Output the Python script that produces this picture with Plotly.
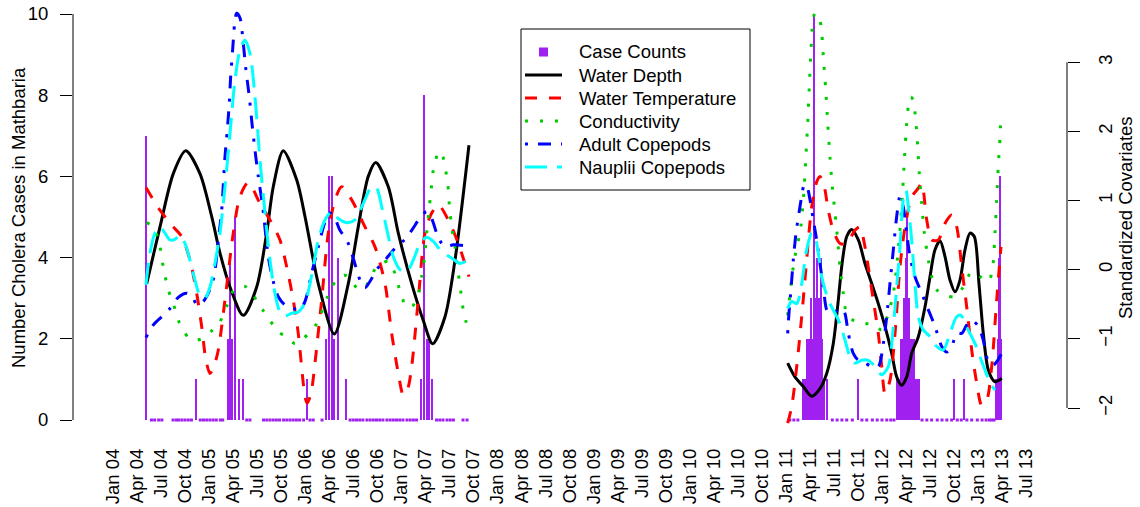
import plotly.graph_objects as go

FONT = "Liberation Sans, Arial, Helvetica, sans-serif"
FS = 18.5
PURPLE = "#A020F0"

# x values are months since January 2004
tick_labels = [
    "Jan 04", "Apr 04", "Jul 04", "Oct 04", "Jan 05", "Apr 05", "Jul 05", "Oct 05",
    "Jan 06", "Apr 06", "Jul 06", "Oct 06", "Jan 07", "Apr 07", "Jul 07", "Oct 07",
    "Jan 08", "Apr 08", "Jul 08", "Oct 08", "Jan 09", "Apr 09", "Jul 09", "Oct 09",
    "Jan 10", "Apr 10", "Jul 10", "Oct 10", "Jan 11", "Apr 11", "Jul 11", "Oct 11",
    "Jan 12", "Apr 12", "Jul 12", "Oct 12", "Jan 13", "Apr 13", "Jul 13",
]
tick_months = [3 * i for i in range(len(tick_labels))]

# ---- case counts (observation month, number of cases) ----
case_t = [
    4.18, 4.8, 5.2, 5.7, 6.1, 7.5, 7.9, 8.2, 8.6, 9.0, 9.4, 9.8, 10.36, 10.9, 11.3, 11.7,
    12.1, 12.5, 12.9, 13.4, 13.7, 14.32, 14.61, 14.89, 15.23, 15.73, 16.19, 16.7, 17.1,
    18.8, 19.2, 19.6, 20.0, 20.4, 20.8, 21.3, 21.7, 22.1, 22.5, 22.9, 23.3, 23.8, 24.18,
    24.6, 25.0, 26.1, 26.59, 27.0, 27.38, 27.63, 28.05, 29.09, 29.6, 30.0, 30.4, 30.8,
    31.2, 31.7, 32.1, 32.5, 32.9, 33.3, 33.7, 34.2, 34.6, 35.0, 35.4, 35.8, 36.2, 36.7,
    37.1, 37.5, 37.9, 38.45, 38.89, 39.2, 39.51, 39.83, 40.4, 40.8, 41.2, 41.7, 42.1,
    42.5, 43.7, 44.2,
    84.5, 85.0, 85.5, 86.1, 86.39, 86.64, 86.89, 87.1, 87.3, 87.52, 87.73, 87.93, 88.14,
    88.35, 88.55, 88.76, 89.1, 89.8, 90.4, 91.0, 91.6, 92.3, 93.05, 93.5, 94.1, 94.8,
    95.4, 96.0, 96.6, 97.1, 97.5, 97.84, 98.09, 98.34, 98.54, 98.75, 98.96, 99.16, 99.38,
    99.59, 99.79, 100.0, 100.21, 100.41, 100.62, 101.0, 101.6, 102.2, 102.9, 103.5,
    104.1, 104.7, 105.03, 105.4, 105.9, 106.24, 106.6, 107.2, 107.9, 108.5, 109.0, 109.4,
    109.7, 110.0, 110.24, 110.4, 110.52, 110.65, 110.77, 110.9,
]
case_n = [
    7, 0, 0, 0, 0, 0, 0, 0, 0, 0, 0, 0, 1, 0, 0, 0,
    0, 0, 0, 0, 0, 2, 4, 2, 5, 1, 1, 0, 0,
    0, 0, 0, 0, 0, 0, 0, 0, 0, 0, 0, 0, 0, 1,
    0, 0, 0, 2, 6, 6, 2, 4, 1, 0, 0, 0, 0,
    0, 0, 0, 0, 0, 0, 0, 0, 0, 0, 0, 0, 0, 0,
    0, 0, 0, 1, 8, 2, 2, 1, 0, 0, 0, 0, 0,
    0, 0, 0,
    0, 0, 0, 1, 1, 2, 2, 3, 2, 10, 3, 4, 3,
    4, 2, 1, 1, 0, 0, 0, 0, 0, 1, 0, 0, 0,
    0, 0, 0, 0, 0, 1, 1, 2, 2, 3, 4, 5, 3,
    2, 2, 2, 1, 1, 1, 0, 0, 0, 0, 0,
    0, 0, 1, 0, 0, 1, 0, 0, 0, 0, 0, 0,
    0, 0, 1, 1, 2, 4, 6, 2,
]

# ---- standardized covariates, 2004-2007 (period 1) and 2011-2013 (period 2) ----
depth_t1 = [4.21, 5.87, 7.53, 9.08, 10.86, 12.32, 13.36, 14.61, 16.27, 17.94, 19.19, 20.01,
            21.26, 22.93, 23.97, 25.01, 25.63, 27.63, 29.38, 30.62, 31.87, 32.80, 34.37,
            35.62, 37.29, 38.73, 39.91, 41.45, 42.70, 44.44]
depth_v1 = [-0.20, 0.62, 1.39, 1.72, 1.39, 0.77, 0.24, -0.25, -0.66, -0.25, 0.53, 1.20,
            1.72, 1.30, 0.77, 0.14, -0.20, -0.93, -0.20, 0.62, 1.35, 1.55, 1.20,
            0.53, -0.20, -0.73, -1.07, -0.68, 0.14, 1.80]
depth_t2 = [84.23, 85.14, 86.18, 87.23, 88.26, 89.10, 89.92, 90.55, 90.97, 91.60, 92.22,
            93.05, 93.88, 94.72, 95.54, 96.38, 97.22, 97.84, 98.46, 99.09, 99.71, 100.54,
            101.37, 102.00, 102.62, 103.25, 103.87, 104.49, 105.12, 105.74, 106.37, 106.99,
            107.53, 108.11, 108.65, 109.28, 110.11, 110.95]
depth_v2 = [-1.35, -1.55, -1.69, -1.83, -1.72, -1.50, -1.07, -0.44, 0.04, 0.48, 0.58,
            0.43, 0.09, -0.20, -0.49, -0.82, -1.21, -1.55, -1.67, -1.55, -1.21, -0.97,
            -0.54, -0.10, 0.29, 0.42, 0.19, -0.15, -0.32, -0.15, 0.29, 0.53,
            0.48, -0.20, -0.92, -1.45, -1.62, -1.57]

temp_t1 = [4.12, 5.87, 7.53, 8.58, 9.61, 10.45, 11.07, 11.6, 12.11, 12.6, 13.15, 13.98,
           15.02, 15.86, 16.89, 18.35, 19.60, 20.85, 21.69, 22.51, 23.13, 23.55, 23.95,
           24.25, 24.6, 24.81, 25.22, 26.05, 26.88, 27.72, 28.55, 29.80, 31.46, 32.71,
           33.96, 34.79, 35.62, 36.24, 36.8, 37.29, 38.11, 38.95, 39.79, 40.61, 41.86,
           43.11, 44.44]
temp_v1 = [1.19, 0.86, 0.62, 0.48, 0.14, -0.34, -0.82, -1.30, -1.50, -1.40, -1.16, -0.44,
           0.53, 1.06, 1.26, 0.96, 0.72, 0.43, 0.04, -0.44, -0.92, -1.40, -1.82,
           -1.93, -1.84, -1.74, -1.35, -0.44, 0.53, 1.01, 1.20, 1.01, 0.62, 0.33,
           -0.20, -0.92, -1.50, -1.81, -1.72, -1.40, -0.44, 0.53, 0.82, 0.94, 0.72,
           0.38, -0.10]
temp_t2 = [84.23, 84.73, 85.36, 85.98, 86.60, 87.23, 87.85, 88.26, 88.80, 89.30, 89.92,
           90.76, 91.60, 92.63, 93.26, 93.80, 94.29, 94.92, 95.54, 95.97, 96.38, 97.00,
           97.63, 98.25, 98.88, 99.71, 100.54, 100.96, 101.59, 102.21, 103.03, 103.87,
           104.71, 105.33, 105.96, 106.58, 107.20, 107.83, 108.45, 109.07, 109.70,
           110.32, 110.86]
temp_v2 = [-2.22, -1.98, -1.40, -0.68, 0.14, 0.91, 1.27, 1.35, 1.20, 0.86, 0.57,
           0.38, 0.38, 0.57, 0.62, 0.38, 0.04, -0.44, -0.92, -1.40, -1.79, -1.60,
           -0.92, 0.04, 0.62, 1.05, 1.18, 1.25, 0.72, 0.43, 0.43, 0.67,
           0.79, 0.62, 0.04, -0.54, -1.16, -1.64, -1.96, -1.89, -1.40,
           -0.44, 0.33]

cond_t1 = [4.21, 5.03, 5.87, 6.28, 6.90, 7.53, 8.15, 8.78, 9.40, 10.45, 11.49, 12.45, 13.27,
           14.27, 14.82, 15.44, 16.48, 17.32, 18.01, 18.69, 19.39, 20.01, 20.76, 21.69,
           22.72, 23.76, 24.59, 25.43, 25.97, 26.38, 26.80, 27.30, 27.97, 28.96, 29.80,
           30.62, 31.46, 32.30, 32.71, 33.55, 34.37, 34.99, 35.42, 35.74, 36.12, 36.58,
           37.29, 37.92, 38.33, 38.54, 38.74, 38.95, 39.16, 39.45, 39.70, 39.99, 40.29,
           40.61, 41.11, 41.45, 41.79, 41.99, 42.28, 42.70, 43.11, 43.45, 43.73, 44.03,
           44.28]
cond_v1 = [0.68, 0.62, 0.33, 0.04, -0.29, -0.49, -0.73, -0.87, -0.98, -1.02, -0.97, -0.87,
           -0.77, -0.51, -0.34, -0.26, -0.24, -0.34, -0.46, -0.58, -0.70, -0.80, -0.91,
           -0.97, -1.07, -0.99, -0.91, -0.78, -0.64, -0.51, -0.39, -0.26, -0.14, -0.08,
           -0.17, -0.28, -0.25, -0.10, 0.01, 0.09, 0.12, 0.01, -0.14, -0.27, -0.41, -0.53,
           -0.54, -0.41, -0.26, -0.10, 0.04, 0.24, 0.53, 0.86, 1.13, 1.44, 1.58, 1.71,
           1.66, 1.49, 1.25, 0.94, 0.62, 0.33, -0.05, -0.34, -0.58, -0.73, -0.88]
cond_t2 = [84.23, 84.52, 84.93, 85.36, 85.77, 86.18, 86.48, 86.73, 86.93, 87.14, 87.35,
           87.64, 88.14, 88.48, 88.68, 88.98, 89.23, 89.51, 89.80, 90.14, 90.47, 90.76,
           91.17, 91.60, 92.63, 93.88, 94.92, 95.97, 96.79, 97.42, 98.04, 98.46, 98.75,
           99.00, 99.29, 99.59, 99.91, 100.21, 100.46, 100.66, 100.96, 101.29, 101.79,
           102.21, 102.83, 103.87, 105.12, 106.15, 107.20, 108.24, 109.28, 109.78, 110.11,
           110.32, 110.52, 110.74, 110.86]
cond_v2 = [-0.66, -0.34, 0.04, 0.33, 0.53, 1.01, 1.59, 2.12, 2.65, 3.18, 3.56,
           3.71, 3.66, 3.42, 3.08, 2.60, 2.12, 1.63, 1.20, 0.82, 0.43, 0.04,
           -0.34, -0.63, -0.75, -0.78, -0.78, -0.87, -0.63, -0.34, 0.29, 0.91, 1.49,
           1.97, 2.36, 2.50, 2.45, 2.17, 1.78, 1.39, 0.96, 0.53, 0.14,
           -0.10, -0.29, -0.37, -0.39, -0.25, -0.03, -0.10, -0.17, 0.00, 0.53,
           1.01, 1.49, 1.92, 2.24]

adult_t1 = [4.12, 5.03, 6.08, 7.12, 8.15, 9.20, 9.83, 10.52, 11.27, 11.90, 12.61, 13.15,
            13.57, 13.98, 14.27, 14.52, 14.69, 14.94, 15.19, 15.44, 15.86, 16.27, 16.60,
            17.02, 17.35, 17.73, 18.14, 18.69, 19.39, 20.01, 20.64, 21.47, 22.51, 23.35,
            24.00, 24.81, 25.63, 26.47, 27.09, 27.72, 28.34, 29.18, 29.80, 30.42, 30.84,
            31.46, 32.08, 32.92, 33.96, 35.21, 36.45, 37.29, 38.45, 39.16, 39.79, 40.41,
            41.04, 41.66, 42.48, 44.44]
adult_v1 = [-0.98, -0.80, -0.68, -0.56, -0.40, -0.34, -0.38, -0.51, -0.46, -0.34, -0.10, 0.43,
            0.86, 1.63, 2.02, 2.41, 2.79, 3.18, 3.56, 3.71, 3.64, 3.27, 2.89,
            2.50, 2.12, 1.73, 1.35, 0.91, 0.19, -0.17, -0.39, -0.51, -0.56, -0.58,
            -0.45, -0.05, 0.33, 0.69, 0.82, 0.74, 0.57, 0.43, 0.24, 0.00, -0.15,
            -0.26, -0.17, 0.00, 0.14, 0.31, 0.44, 0.57, 0.77, 0.84, 0.74, 0.53,
            0.38, 0.33, 0.36, 0.34]
adult_t2 = [84.23, 84.39, 84.64, 84.93, 85.27, 85.64, 85.98, 86.30, 86.64, 87.02, 87.43,
            87.85, 88.26, 88.68, 89.10, 89.51, 90.14, 90.76, 91.30, 91.80, 92.42, 93.05,
            93.88, 94.72, 95.54, 96.17, 96.59, 97.00, 97.42, 97.84, 98.25, 98.66, 99.09,
            99.50, 100.12, 100.96, 101.79, 102.62, 103.46, 104.08, 104.71, 105.33, 105.96,
            106.58, 107.20, 108.03, 108.65, 109.28, 109.90, 110.45, 110.95]
adult_v2 = [-0.92, -0.63, -0.29, 0.14, 0.53, 0.82, 1.06, 1.23, 1.20, 1.01, 0.72,
            0.43, 0.09, -0.25, -0.58, -0.63, -0.61, -0.56, -0.61, -0.92, -1.21, -1.31,
            -1.35, -1.40, -1.40, -1.07, -0.68, -0.20, 0.29, 0.77, 1.06, 0.91, 0.53,
            0.19, -0.10, -0.34, -0.58, -0.82, -1.11, -1.19, -1.11, -0.92, -0.92,
            -0.80, -0.73, -0.82, -1.02, -1.33, -1.38, -1.31, -1.21]

naup_t1 = [4.12, 4.62, 5.24, 5.87, 6.49, 7.12, 7.74, 8.36, 8.99, 9.61, 10.24, 10.86, 11.49,
           12.11, 12.73, 13.36, 13.98, 14.61, 15.23, 15.86, 16.48, 17.10, 17.73, 18.35,
           18.98, 19.60, 20.22, 20.85, 21.47, 22.31, 23.13, 23.97, 24.81, 25.63, 26.47,
           27.30, 28.13, 29.18, 30.21, 31.25, 32.30, 32.92, 33.55, 34.29, 34.99, 35.83,
           36.67, 37.49, 38.33, 39.16, 39.99, 41.04, 42.28, 43.32, 44.36]
naup_v1 = [-0.22, 0.24, 0.53, 0.62, 0.53, 0.43, 0.44, 0.50, 0.38, 0.14, -0.15, -0.37, -0.41,
           -0.25, 0.09, 0.53, 1.20, 1.97, 2.74, 3.18, 3.32, 3.13, 2.50, 1.59,
           0.82, 0.14, -0.34, -0.61, -0.67, -0.63, -0.61, -0.48, -0.08, 0.43, 0.72,
           0.84, 0.74, 0.68, 0.72, 0.96, 1.20, 1.18, 0.91, 0.53, 0.19, 0.00,
           -0.03, 0.14, 0.38, 0.47, 0.41, 0.26, 0.17, 0.09, 0.14]
naup_t2 = [84.23, 84.73, 85.36, 85.98, 86.60, 87.23, 87.64, 88.05, 88.48, 88.89, 89.51,
           90.14, 90.76, 91.39, 92.01, 92.63, 93.47, 94.29, 95.13, 95.97, 96.79, 97.42,
           97.84, 98.25, 98.66, 99.00, 99.29, 99.71, 100.12, 100.54, 101.16, 102.00,
           102.83, 103.66, 104.49, 105.33, 105.87, 106.37, 106.99, 107.62, 108.24,
           108.86, 109.49, 110.11]
naup_v2 = [-0.56, -0.46, -0.49, -0.20, 0.29, 0.53, 0.48, 0.24, -0.10, -0.29, -0.49,
           -0.63, -0.78, -1.02, -1.26, -1.35, -1.31, -1.31, -1.40, -1.52, -1.40, -0.82,
           -0.25, 0.33, 1.01, 1.15, 0.91, 0.43, -0.20, -0.68, -0.87, -0.97,
           -1.11, -1.16, -0.92, -0.68, -0.66, -0.78, -0.92, -1.07, -1.26,
           -1.45, -1.64, -1.74]

series = [
    ("Water Depth", "black", "solid", depth_t1, depth_v1, depth_t2, depth_v2),
    ("Water Temperature", "#FF0000", "12px,12px", temp_t1, temp_v1, temp_t2, temp_v2),
    ("Conductivity", "#00CD00", "3px,12px", cond_t1, cond_v1, cond_t2, cond_v2),
    ("Adult Copepods", "#0000FF", "3px,10px,13px,10px", adult_t1, adult_v1, adult_t2, adult_v2),
    ("Nauplii Copepods", "#00FFFF", "22px,10px", naup_t1, naup_v1, naup_t2, naup_v2),
]

fig = go.Figure()

fig.add_trace(go.Bar(
    x=case_t, y=case_n, width=0.25, name="Case Counts", showlegend=False,
    marker=dict(color=PURPLE, line=dict(width=0)),
    xaxis="x", yaxis="y", hoverinfo="x+y",
))
zero_t = [t for t, n in zip(case_t, case_n) if n == 0]
fig.add_trace(go.Scatter(
    x=zero_t, y=[0] * len(zero_t), mode="markers", showlegend=False,
    marker=dict(symbol="square", size=3, color=PURPLE, line=dict(width=0)),
    xaxis="x", yaxis="y", hoverinfo="skip",
))

for name, color, dash, t1, v1, t2, v2 in series:
    fig.add_trace(go.Scatter(
        x=t1 + [None] + t2, y=v1 + [None] + v2, mode="lines", name=name, showlegend=False,
        line=dict(color=color, width=3, dash=dash, shape="spline", smoothing=0.8),
        connectgaps=False, xaxis="x", yaxis="y2",
    ))

# ---- legend box drawn in the plot area (pixel layout converted to paper units) ----
PLOT_L, PLOT_W, PLOT_H = 73, 994, 436


def px_x(p):
    return (p - PLOT_L) / PLOT_W


def px_y(p):
    return 1 - p / PLOT_H


shapes = [
    dict(type="line", xref="paper", x0=0, x1=0, yref="y", y0=0, y1=10,
         line=dict(color="black", width=1)),
    dict(type="line", xref="paper", x0=1, x1=1, yref="y2", y0=-2, y1=3,
         line=dict(color="black", width=1)),
    dict(type="rect", xref="paper", yref="paper", x0=px_x(521), x1=px_x(750),
         y0=px_y(190), y1=px_y(29), line=dict(color="black", width=1),
         fillcolor="white", layer="above"),
]
annotations = []
legend_rows = [("Case Counts", PURPLE, None)] + [(s[0], s[1], s[2]) for s in series]
for i, (label, color, dash) in enumerate(legend_rows):
    yc = 52 + 23 * i
    if dash is None:
        shapes.append(dict(type="rect", xref="paper", yref="paper",
                           x0=px_x(539), x1=px_x(548), y0=px_y(yc + 4.5), y1=px_y(yc - 4.5),
                           line=dict(width=0), fillcolor=color, layer="above"))
    else:
        shapes.append(dict(type="line", xref="paper", yref="paper",
                           x0=px_x(525), x1=px_x(562), y0=px_y(yc), y1=px_y(yc),
                           line=dict(color=color, width=3, dash=dash), layer="above"))
    annotations.append(dict(text=label, showarrow=False, xref="paper", yref="paper",
                            x=px_x(577), y=px_y(yc), xanchor="left", yanchor="middle",
                            font=dict(size=FS)))

annotations += [
    dict(text="Number Cholera Cases in Mathbaria", textangle=-90, showarrow=False,
         xref="paper", x=0, xshift=-55, xanchor="center",
         yref="paper", y=0.5, yanchor="middle", font=dict(size=FS)),
    dict(text="Standardized Covariates", textangle=-90, showarrow=False,
         xref="paper", x=1, xshift=58, xanchor="center",
         yref="paper", y=0.5, yanchor="middle", font=dict(size=FS)),
]

fig.update_layout(
    width=1140, height=507,
    margin=dict(l=PLOT_L, r=73, t=0, b=71, pad=0),
    paper_bgcolor="white", plot_bgcolor="white",
    font=dict(family=FONT, size=FS, color="black"),
    bargap=0,
    showlegend=False,
    xaxis=dict(
        range=[-4.99, 119.1], tickmode="array", tickvals=tick_months, ticktext=tick_labels,
        tickangle=-90, showgrid=False, zeroline=False, showline=False, ticks="",
        ticklabelstandoff=8, tickfont=dict(size=FS),
    ),
    yaxis=dict(
        range=[-0.394, 10.345], tickmode="array", tickvals=[0, 2, 4, 6, 8, 10],
        ticks="outside", ticklen=12, tickwidth=1, tickcolor="black",
        showgrid=False, zeroline=False, showline=False, ticklabelstandoff=8,
        tickfont=dict(size=FS),
    ),
    yaxis2=dict(
        range=[-2.405, 3.901], overlaying="y", side="right", tickmode="array",
        tickvals=[-2, -1, 0, 1, 2, 3], tickangle=-90,
        ticks="outside", ticklen=12, tickwidth=1, tickcolor="black",
        showgrid=False, zeroline=False, showline=False, ticklabelstandoff=10,
        tickfont=dict(size=FS),
    ),
    shapes=shapes,
    annotations=annotations,
)

fig.write_html("out.html")
